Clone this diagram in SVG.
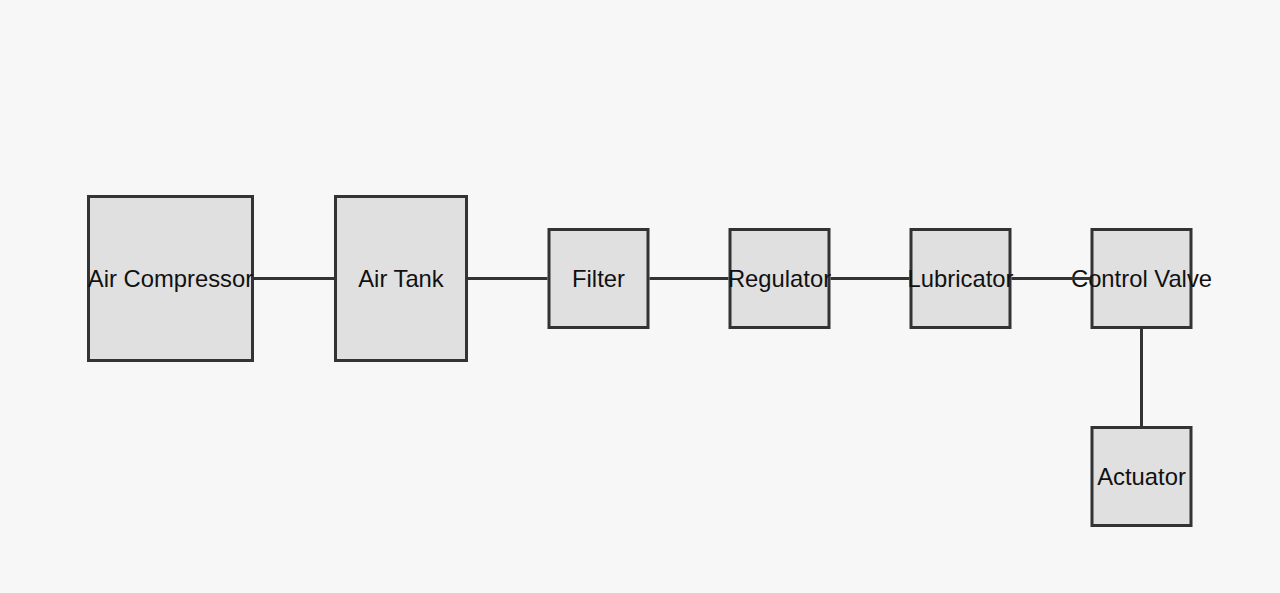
<svg xmlns="http://www.w3.org/2000/svg" width="1280" height="593" viewBox="0 0 1280 593">
<style>
.node rect{fill:#e0e0e0;stroke:#333;stroke-width:3}
.node text{font-family:"Liberation Sans",Arial,sans-serif;font-size:23.8px;fill:#111;text-anchor:middle;dominant-baseline:central}
.edges line{stroke:#333;stroke-width:3}
</style>
<rect width="1280" height="593" fill="#f7f7f7"/>
<g id="air-compressor" class="node"><rect x="88.5" y="196.5" width="164" height="164"/><text x="170.5" y="278">Air Compressor</text></g>
<g id="air-tank" class="node"><rect x="335.5" y="196.5" width="131" height="164"/><text x="401" y="278">Air Tank</text></g>
<g id="filter" class="node"><rect x="549" y="229.5" width="99" height="98"/><text x="598.5" y="278">Filter</text></g>
<g id="regulator" class="node"><rect x="730" y="229.5" width="99" height="98"/><text x="779.5" y="278">Regulator</text></g>
<g id="lubricator" class="node"><rect x="911" y="229.5" width="99" height="98"/><text x="960.5" y="278">Lubricator</text></g>
<g id="control-valve" class="node"><rect x="1092" y="229.5" width="99" height="98"/><text x="1141.5" y="278">Control Valve</text></g>
<g id="actuator" class="node"><rect x="1092" y="427.5" width="99" height="98"/><text x="1141.5" y="476">Actuator</text></g>
<g id="connectors" class="edges">
<line x1="254" y1="278.5" x2="334" y2="278.5"/>
<line x1="468" y1="278.5" x2="547.5" y2="278.5"/>
<line x1="649.5" y1="278.5" x2="728.5" y2="278.5"/>
<line x1="830.5" y1="278.5" x2="909.5" y2="278.5"/>
<line x1="1011.5" y1="278.5" x2="1090.5" y2="278.5"/>
<line x1="1141.5" y1="329" x2="1141.5" y2="426"/>
</g>
</svg>
